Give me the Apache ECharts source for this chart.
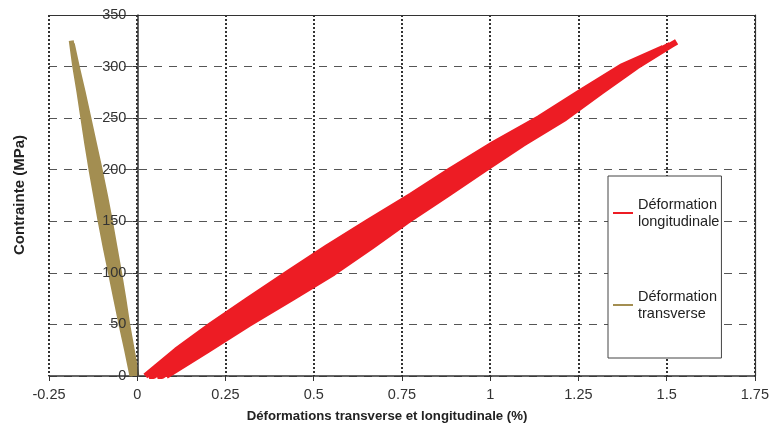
<!DOCTYPE html>
<html><head><meta charset="utf-8">
<script src="https://cdn.jsdelivr.net/npm/echarts@6/dist/echarts.min.js"></script>
<style>html,body{margin:0;padding:0;background:#fff}#c{width:772px;height:426px}</style>
</head><body><div id="c"></div>
<script>
// ---- tick labels ----
const xTicks = [-0.25, 0, 0.25, 0.5, 0.75, 1, 1.25, 1.5, 1.75];
const yTicks = [0, 50, 100, 150, 200, 250, 300, 350];

// ---- series names ----
const seriesNames = ['Déformation\nlongitudinale', 'Déformation\ntransverse'];

// ---- stress levels (MPa) at which strain was read ----
const stress = [0, 25, 50, 75, 100, 125, 150, 175, 200, 225, 250, 275, 300];

// ---- longitudinal strain (%) : successive loading / unloading traces ----
const longUp1   = [0.023, 0.111, 0.211, 0.318, 0.428, 0.539, 0.656, 0.776, 0.889, 1.009, 1.139, 1.254, 1.372];
const longDown1 = [0.034, 0.129, 0.231, 0.342, 0.454, 0.563, 0.678, 0.796, 0.907, 1.025, 1.153, 1.266, 1.380];
const longUp2   = [0.046, 0.146, 0.252, 0.365, 0.479, 0.588, 0.699, 0.815, 0.926, 1.042, 1.168, 1.277, 1.389];
const longDown2 = [0.058, 0.164, 0.272, 0.389, 0.505, 0.612, 0.721, 0.835, 0.944, 1.058, 1.182, 1.289, 1.397];
const longUp3   = [0.070, 0.181, 0.293, 0.412, 0.530, 0.637, 0.742, 0.854, 0.963, 1.075, 1.197, 1.300, 1.406];
const longDown3 = [0.082, 0.199, 0.314, 0.436, 0.556, 0.662, 0.764, 0.874, 0.982, 1.092, 1.212, 1.312, 1.415];
const longPeakStrain = [1.490, 1.510, 1.528];
const longPeakStress = [318, 321, 324];

// ---- transverse strain (%) : successive loading / unloading traces ----
const transUp1   = [-0.015, -0.030, -0.046, -0.061, -0.076, -0.091, -0.105, -0.118, -0.131, -0.143, -0.154, -0.165, -0.177];
const transDown1 = [-0.010, -0.025, -0.039, -0.053, -0.067, -0.082, -0.095, -0.109, -0.122, -0.136, -0.148, -0.161, -0.174];
const transUp2   = [-0.006, -0.019, -0.033, -0.045, -0.059, -0.072, -0.085, -0.099, -0.114, -0.128, -0.142, -0.157, -0.172];
const transDown2 = [-0.001, -0.014, -0.027, -0.038, -0.050, -0.063, -0.076, -0.090, -0.105, -0.121, -0.137, -0.153, -0.170];
const transPeakStrain = [-0.187, -0.184];
const transPeakStress = [325, 322];

function buildPath(traces, peakX, peakY) {
  const pts = [];
  for (let t = 0; t < traces.length; t++) {
    const tr = traces[t];
    if (t % 2 === 0) {
      for (let i = 0; i < stress.length; i++) pts.push([tr[i], stress[i]]);
      const p = t / 2;
      pts.push([peakX[p], peakY[p]]);
    } else {
      for (let i = stress.length - 1; i >= 0; i--) pts.push([tr[i], stress[i]]);
    }
  }
  return pts;
}

const FONT = '"Liberation Sans", Arial, Helvetica, sans-serif';
const chart = echarts.init(document.getElementById('c'), null, {renderer: 'canvas'});
const xMin = xTicks[0], xMax = xTicks[xTicks.length - 1], xInt = xTicks[1] - xTicks[0];
const yMin = yTicks[0], yMax = yTicks[yTicks.length - 1], yInt = yTicks[1] - yTicks[0];
const gridLeft = 49, gridRight = 16;
const plotW = 772 - gridLeft - gridRight;
// y axis sits at x = 0 : shift it inward from the left edge of the grid
const yAxisShift = -plotW * (0 - xMin) / (xMax - xMin);

chart.setOption({
  animation: false,
  backgroundColor: '#fff',
  grid: {left: gridLeft, right: gridRight, top: 15, bottom: 50, containLabel: false},
  xAxis: [{
    type: 'value', min: xMin, max: xMax, interval: xInt, position: 'bottom',
    axisLine: {show: true, onZero: false, lineStyle: {color: '#333', width: 1.5}},
    axisTick: {show: true, length: 5, inside: false, lineStyle: {color: '#333'}},
    axisLabel: {fontFamily: FONT, fontSize: 14.5, color: '#333', margin: 11},
    splitLine: {show: true, lineStyle: {color: '#333', width: 2, type: [2, 2]}}
  }, {
    type: 'value', min: xMin, max: xMax, interval: xInt, position: 'top',
    axisLine: {show: true, onZero: false, lineStyle: {color: '#333', width: 1.2}},
    axisTick: {show: false}, axisLabel: {show: false}, splitLine: {show: false}
  }],
  yAxis: [{
    // grid lines only (under the data)
    type: 'value', min: yMin, max: yMax, interval: yInt, position: 'left',
    axisLine: {show: false, onZero: false}, axisTick: {show: false}, axisLabel: {show: false},
    splitLine: {show: true, lineStyle: {color: '#555', width: 1, type: [8, 7]}}
  }, {
    type: 'value', min: yMin, max: yMax, interval: yInt, position: 'right',
    axisLine: {show: true, onZero: false, lineStyle: {color: '#333', width: 1.2}},
    axisTick: {show: false}, axisLabel: {show: false}, splitLine: {show: false}
  }, {
    // visible value axis at x = 0, drawn above the data
    type: 'value', min: yMin, max: yMax, interval: yInt, position: 'left', offset: yAxisShift, z: 10,
    axisLine: {show: true, onZero: false, lineStyle: {color: '#333', width: 1.5}},
    axisTick: {show: true, length: 5, lineStyle: {color: '#333'}},
    axisLabel: {fontFamily: FONT, fontSize: 14.5, color: '#333', margin: 11},
    splitLine: {show: false}
  }],
  legend: {
    orient: 'vertical', left: 608, top: 176,
    padding: [11.5, 2, 27.5, 5],
    itemGap: 41, itemWidth: 20, itemHeight: 2, icon: 'rect',
    backgroundColor: '#fff', borderColor: '#444', borderWidth: 1,
    textStyle: {fontFamily: FONT, fontSize: 14.5, color: '#222', lineHeight: 17, padding: [17, 0, 0, 0]},
    data: seriesNames
  },
  graphic: [
    {type: 'text', x: 387, y: 416, style: {text: 'Déformations transverse et longitudinale (%)', x: 0, y: 0, textAlign: 'center', textVerticalAlign: 'middle', font: 'bold 13.2px ' + FONT, fill: '#222'}},
    {type: 'text', x: 20, y: 195, rotation: Math.PI / 2, style: {text: 'Contrainte (MPa)', x: 0, y: 0, textAlign: 'center', textVerticalAlign: 'middle', font: 'bold 15px ' + FONT, fill: '#222'}}
  ],
  series: [{
    name: seriesNames[0], type: 'line', xAxisIndex: 0, yAxisIndex: 0,
    showSymbol: false, symbol: 'none', z: 3,
    lineStyle: {color: '#ed1c24', width: 6},
    itemStyle: {color: '#ed1c24'},
    data: buildPath([longUp1, longDown1, longUp2, longDown2, longUp3, longDown3], longPeakStrain, longPeakStress)
  }, {
    name: seriesNames[1], type: 'line', xAxisIndex: 0, yAxisIndex: 0,
    showSymbol: false, symbol: 'none', z: 4,
    lineStyle: {color: '#a38e51', width: 5},
    itemStyle: {color: '#a38e51'},
    data: buildPath([transUp1, transDown1, transUp2, transDown2], transPeakStrain, transPeakStress)
  }]
});
</script></body></html>
